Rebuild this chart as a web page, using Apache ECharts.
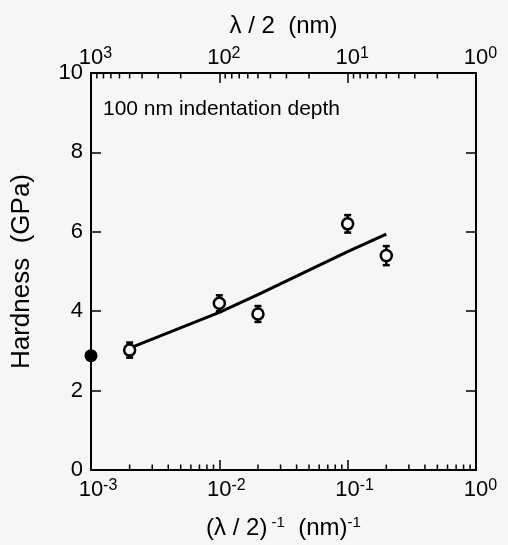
<!DOCTYPE html>
<html>
<head>
<meta charset="utf-8">
<script src="https://cdn.jsdelivr.net/npm/echarts@6/dist/echarts.min.js"></script>
<style>
  html, body { margin: 0; padding: 0; background: #f6f6f6; }
  #chart { width: 508px; height: 545px; }
</style>
</head>
<body>
<div id="chart"></div>
<script>
// (lambda/2)^-1 in nm^-1 and measured hardness (GPa)
const invHalfPeriod = [0.002, 0.01, 0.02, 0.1, 0.2];
const hardness = [3.02, 4.2, 3.93, 6.2, 5.4];
const hardnessErr = [0.19, 0.2, 0.2, 0.22, 0.24];
// filled symbol on the left axis
const bulkPoint = [[0.001, 2.88]];
// fitted curve
const fitX = [0.002, 0.01, 0.02, 0.1, 0.2];
const fitY = [3.07, 3.97, 4.42, 5.5, 5.94];
// minor tick positions (2..9 per decade)
const bottomMinorTicks = [
  0.002, 0.003, 0.004, 0.005, 0.006, 0.007, 0.008, 0.009,
  0.02, 0.03, 0.04, 0.05, 0.06, 0.07, 0.08, 0.09,
  0.2, 0.3, 0.4, 0.5, 0.6, 0.7, 0.8, 0.9
];
const topMinorTicks = [
  2, 3, 4, 5, 6, 7, 8, 9,
  20, 30, 40, 50, 60, 70, 80, 90,
  200, 300, 400, 500, 600, 700, 800, 900
];

const font = "'Liberation Sans', Arial, Helvetica, sans-serif";
const ink = '#000';

function powerLabel(v) {
  const e = Math.round(Math.log10(v));
  return (e < 0 ? '{bn|10}' : '{b|10}') + '{s|' + e + '}';
}

const powerRich = {
  b: { fontSize: 22, fontFamily: font, color: ink, lineHeight: 24, verticalAlign: 'bottom', padding: [0, 0, 0, 9] },
  bn: { fontSize: 22, fontFamily: font, color: ink, lineHeight: 24, verticalAlign: 'bottom', padding: [0, 0, 0, 14] },
  s: { fontSize: 16, fontFamily: font, color: ink, lineHeight: 16, verticalAlign: 'top', padding: [1, 0, 0, 0] }
};

const chart = echarts.init(document.getElementById('chart'));
chart.setOption({
  animation: false,
  backgroundColor: '#f6f6f6',
  title: {
    text: '100 nm indentation depth',
    left: 103,
    top: 99,
    padding: 0,
    textStyle: { fontSize: 21, fontWeight: 'normal', fontFamily: font, color: ink }
  },
  grid: { left: 91, right: 32, top: 73, bottom: 75 },
  xAxis: [
    {
      type: 'log',
      logBase: 10,
      min: 0.001,
      max: 1,
      position: 'bottom',
      name: '{t|(λ / 2)}{s| -1}{t|  (nm)}{s|-1}',
      nameLocation: 'middle',
      nameGap: 44,
      nameTextStyle: {
        rich: {
          t: { fontSize: 24, fontFamily: font, color: ink, lineHeight: 26, verticalAlign: 'bottom' },
          s: { fontSize: 15, fontFamily: font, color: ink, lineHeight: 15, verticalAlign: 'top', padding: [1, 0, 0, 0] }
        }
      },
      axisLine: { onZero: false, lineStyle: { color: '#000', width: 2 } },
      axisTick: { inside: true, length: 10, lineStyle: { color: '#000', width: 1.5 } },
      axisLabel: { margin: 7, formatter: powerLabel, rich: powerRich },
      splitLine: { show: false }
    },
    {
      type: 'log',
      logBase: 10,
      min: 1,
      max: 1000,
      inverse: true,
      position: 'top',
      name: 'λ / 2  (nm)',
      nameLocation: 'middle',
      nameGap: 35,
      nameTextStyle: { fontSize: 24, fontFamily: font, color: ink },
      axisLine: { onZero: false, lineStyle: { color: '#000', width: 2 } },
      axisTick: { inside: true, length: 10, lineStyle: { color: '#000', width: 1.5 } },
      axisLabel: { margin: 4, formatter: powerLabel, rich: powerRich },
      splitLine: { show: false }
    }
  ],
  yAxis: [
    {
      type: 'value',
      min: 0,
      max: 10,
      interval: 2,
      position: 'left',
      name: 'Hardness  (GPa)',
      nameLocation: 'middle',
      nameGap: 56,
      nameTextStyle: { fontSize: 26, fontFamily: font, color: ink },
      axisLine: { show: true, onZero: false, lineStyle: { color: '#000', width: 2 } },
      axisTick: { show: true, inside: true, length: 10, lineStyle: { color: '#000', width: 1.5 } },
      axisLabel: { margin: 8, fontSize: 22, fontFamily: font, color: ink },
      splitLine: { show: false }
    },
    {
      type: 'value',
      min: 0,
      max: 10,
      interval: 2,
      position: 'right',
      axisLine: { show: true, onZero: false, lineStyle: { color: '#000', width: 2 } },
      axisTick: { show: true, inside: true, length: 10, lineStyle: { color: '#000', width: 1.5 } },
      axisLabel: { show: false },
      splitLine: { show: false }
    }
  ],
  series: [
    {
      name: 'bottom minor ticks',
      type: 'scatter',
      xAxisIndex: 0,
      yAxisIndex: 0,
      silent: true,
      clip: false,
      symbol: 'rect',
      symbolSize: [1.5, 5],
      symbolOffset: [0, -3],
      itemStyle: { color: '#000', opacity: 1 },
      data: bottomMinorTicks.map((v) => [v, 0])
    },
    {
      name: 'top minor ticks',
      type: 'scatter',
      xAxisIndex: 1,
      yAxisIndex: 0,
      silent: true,
      clip: false,
      symbol: 'rect',
      symbolSize: [1.5, 5],
      symbolOffset: [0, 3],
      itemStyle: { color: '#000', opacity: 1 },
      data: topMinorTicks.map((v) => [v, 10])
    },
    {
      name: 'fit',
      type: 'line',
      xAxisIndex: 0,
      yAxisIndex: 0,
      showSymbol: false,
      smooth: false,
      lineStyle: { color: '#000', width: 3 },
      data: fitX.map((x, i) => [x, fitY[i]]),
      z: 2
    },
    {
      name: 'error bars',
      type: 'custom',
      xAxisIndex: 0,
      yAxisIndex: 0,
      data: invHalfPeriod.map((x, i) => [x, hardness[i], hardnessErr[i]]),
      encode: { x: 0, y: 1 },
      renderItem: function (params, api) {
        const x = api.value(0);
        const y = api.value(1);
        const e = api.value(2);
        const top = api.coord([x, y + e]);
        const bot = api.coord([x, y - e]);
        const w = 3.5;
        const style = { stroke: '#000', lineWidth: 2.5 };
        return {
          type: 'group',
          children: [
            { type: 'line', shape: { x1: top[0], y1: top[1], x2: bot[0], y2: bot[1] }, style: style },
            { type: 'line', shape: { x1: top[0] - w, y1: top[1], x2: top[0] + w, y2: top[1] }, style: style },
            { type: 'line', shape: { x1: bot[0] - w, y1: bot[1], x2: bot[0] + w, y2: bot[1] }, style: style }
          ]
        };
      },
      z: 3
    },
    {
      name: 'hardness',
      type: 'scatter',
      xAxisIndex: 0,
      yAxisIndex: 0,
      symbol: 'circle',
      symbolSize: 11,
      itemStyle: { color: '#f6f6f6', borderColor: '#000', borderWidth: 2.5, opacity: 1 },
      data: invHalfPeriod.map((x, i) => [x, hardness[i]]),
      z: 4
    },
    {
      name: 'bulk',
      type: 'scatter',
      xAxisIndex: 0,
      yAxisIndex: 0,
      clip: false,
      symbol: 'circle',
      symbolSize: 13,
      itemStyle: { color: '#000', opacity: 1 },
      data: bulkPoint,
      z: 5
    }
  ]
});
</script>
</body>
</html>
